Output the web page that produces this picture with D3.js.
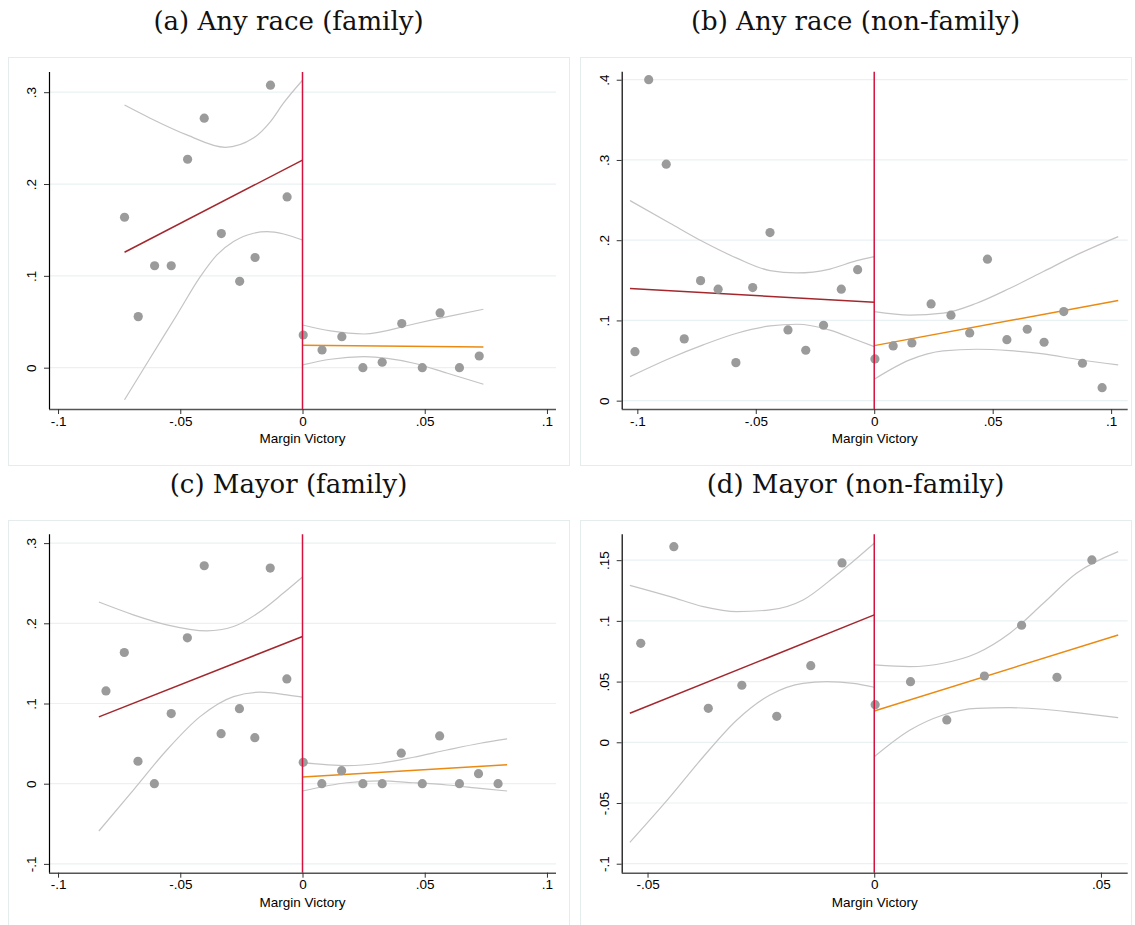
<!DOCTYPE html>
<html><head><meta charset="utf-8">
<script src="https://cdn.jsdelivr.net/npm/d3@7"></script>
<style>body{margin:0;background:#fff}svg{display:block}</style>
</head><body>
<svg id="chart" width="1135" height="925"></svg>
<script>
// ---------- Titles ----------
const titles = ["(a) Any race (family)", "(b) Any race (non-family)", "(c) Mayor (family)", "(d) Mayor (non-family)"];
const xAxisTitle = "Margin Victory";

// ---------- Tick values / labels ----------
const xTicksWide = [-0.1, -0.05, 0, 0.05, 0.1];
const xTickLabelsWide = ["-.1", "-.05", "0", ".05", ".1"];
const xTicksNarrow = [-0.05, 0, 0.05];
const xTickLabelsNarrow = ["-.05", "0", ".05"];
const yTicksA = [0, 0.1, 0.2, 0.3];
const yTickLabelsA = ["0", ".1", ".2", ".3"];
const yTicksB = [0, 0.1, 0.2, 0.3, 0.4];
const yTickLabelsB = ["0", ".1", ".2", ".3", ".4"];
const yTicksC = [-0.1, 0, 0.1, 0.2, 0.3];
const yTickLabelsC = ["-.1", "0", ".1", ".2", ".3"];
const yTicksD = [-0.1, -0.05, 0, 0.05, 0.1, 0.15];
const yTickLabelsD = ["-.1", "-.05", "0", ".05", ".1", ".15"];

// ---------- Panel A: Any race (family) ----------
const aBinX = [-0.0728,-0.0672,-0.0605,-0.0537,-0.047,-0.0402,-0.0332,-0.0257,-0.0194,-0.0131,-0.0063,0.0003,0.008,0.0161,0.0247,0.0326,0.0406,0.049,0.0563,0.0642,0.0723];
const aBinY = [0.1638,0.0556,0.111,0.111,0.227,0.2717,0.146,0.094,0.12,0.3076,0.186,0.0356,0.0193,0.0338,0,0.0059,0.048,0,0.0596,0,0.0127];
const aFitLeftX = [-0.0728, 0];
const aFitLeftY = [0.1257, 0.226];
const aFitRightX = [0, 0.074];
const aFitRightY = [0.0244, 0.0226];
const aCiLeftUpperX = [-0.0728,-0.0623,-0.0473,-0.0316,-0.0201,-0.0131,-0.0078,0];
const aCiLeftUpperY = [0.286,0.2717,0.2535,0.240,0.250,0.268,0.288,0.313];
const aCiLeftLowerX = [-0.0728,-0.0623,-0.0514,-0.0418,-0.035,-0.0282,-0.02,-0.0145,-0.0077,0];
const aCiLeftLowerY = [-0.035,0.0106,0.0574,0.0991,0.1228,0.1373,0.1464,0.1481,0.1456,0.139];
const aCiRightX = [0,0.0115,0.0251,0.0456,0.0593,0.074];
const aCiRightUpperY = [0.0465,0.040,0.0367,0.0476,0.0556,0.0636];
const aCiRightLowerY = [0.003,0.0092,0.012,0.0048,-0.0061,-0.018];

// ---------- Panel B: Any race (non-family) ----------
const bBinX = [-0.101,-0.0952,-0.0878,-0.0802,-0.0733,-0.0659,-0.0584,-0.0513,-0.044,-0.0364,-0.0289,-0.0214,-0.0139,-0.007,0.0003,0.008,0.0159,0.024,0.0324,0.0403,0.0478,0.056,0.0646,0.0717,0.08,0.0879,0.0962];
const bBinY = [0.0611,0.400,0.2948,0.077,0.1496,0.139,0.0474,0.1409,0.2095,0.0882,0.0628,0.094,0.139,0.1633,0.052,0.0682,0.072,0.1206,0.1065,0.0844,0.1763,0.076,0.089,0.0728,0.111,0.0466,0.0162];
const bFitLeftX = [-0.1031, 0];
const bFitLeftY = [0.1397, 0.1227];
const bFitRightX = [0, 0.103];
const bFitRightY = [0.0686, 0.1247];
const bCiLeftX = [-0.1031,-0.0862,-0.0722,-0.058,-0.044,-0.0327,-0.0187,-0.0074,0];
const bCiLeftUpperY = [0.2494,0.2212,0.198,0.1776,0.1621,0.1592,0.164,0.1745,0.1796];
const bCiLeftLowerY = [0.030,0.0529,0.0695,0.084,0.0931,0.0952,0.088,0.0756,0.0673];
const bCiRightX = [0,0.015,0.0291,0.0432,0.0573,0.0714,0.0854,0.103];
const bCiRightUpperY = [0.111,0.1067,0.109,0.1214,0.1401,0.1609,0.1817,0.2045];
const bCiRightLowerY = [0.0267,0.0508,0.062,0.0641,0.0623,0.0582,0.0516,0.0445];

// ---------- Panel C: Mayor (family) ----------
const cBinX = [-0.0804,-0.0729,-0.0673,-0.0606,-0.0537,-0.0471,-0.0402,-0.0333,-0.0258,-0.0195,-0.0132,-0.0064,0.0003,0.0079,0.016,0.0247,0.0326,0.0404,0.049,0.0561,0.0642,0.072,0.08];
const cBinY = [0.1157,0.1636,0.028,0,0.0874,0.1819,0.2718,0.0624,0.0936,0.0574,0.2689,0.1307,0.0267,0,0.0162,0,0,0.038,0,0.0596,0,0.0125,0];
const cFitLeftX = [-0.0833, 0];
const cFitLeftY = [0.0833, 0.1835];
const cFitRightX = [0, 0.0837];
const cFitRightY = [0.0084, 0.0237];
const cCiLeftUpperX = [-0.0833,-0.0692,-0.0555,-0.0391,-0.0282,-0.0173,-0.0078,0];
const cCiLeftUpperY = [0.2265,0.2106,0.1981,0.1906,0.196,0.2147,0.2377,0.2577];
const cCiLeftLowerX = [-0.0833,-0.0692,-0.0555,-0.0419,-0.0282,-0.0173,-0.0064,0];
const cCiLeftLowerY = [-0.059,-0.0079,0.042,0.0836,0.1086,0.1141,0.1107,0.1079];
const cCiRightX = [0,0.0182,0.0318,0.0454,0.0591,0.0727,0.0837];
const cCiRightUpperY = [0.0262,0.0225,0.0255,0.033,0.042,0.0504,0.0558];
const cCiRightLowerY = [-0.0091,0.0012,0.0034,0.0012,-0.0016,-0.0058,-0.0091];

// ---------- Panel D: Mayor (non-family) ----------
const dBinX = [-0.0515,-0.0442,-0.0366,-0.0292,-0.0215,-0.014,-0.0071,0.0002,0.008,0.016,0.0243,0.0325,0.0403,0.048];
const dBinY = [0.0815,0.1611,0.028,0.047,0.0214,0.0631,0.1477,0.031,0.0499,0.0184,0.0546,0.0964,0.0535,0.1502];
const dFitLeftX = [-0.0539, 0];
const dFitLeftY = [0.0239, 0.1049];
const dFitRightX = [0, 0.0538];
const dFitRightY = [0.0258, 0.0884];
const dCiLeftUpperX = [-0.0539,-0.045,-0.0377,-0.0303,-0.023,-0.0157,-0.0083,0];
const dCiLeftUpperY = [0.1293,0.12,0.1117,0.1076,0.109,0.1172,0.1378,0.164];
const dCiLeftLowerX = [-0.0539,-0.045,-0.0377,-0.0303,-0.023,-0.0157,-0.0105,-0.0046,0];
const dCiLeftLowerY = [-0.0824,-0.0448,-0.0119,0.0184,0.039,0.0486,0.0499,0.0486,0.0453];
const dCiRightX = [0,0.0079,0.0152,0.0226,0.0299,0.0373,0.0446,0.0538];
const dCiRightUpperY = [0.0637,0.0623,0.0651,0.0733,0.0898,0.1145,0.1392,0.157];
const dCiRightLowerY = [-0.0119,0.0101,0.0225,0.028,0.0285,0.0272,0.0244,0.0203];

// ---------- Drawing ----------
const zip = (xs, ys) => xs.map((x, i) => [x, ys[i]]);
const svg = d3.select("#chart");
const COL = {
  point: "#9b9b9b", ci: "#c4c4c4", fitL: "#a3282e", fitR: "#ea8a12",
  cut: "#d5123e", grid: "#eaf1f3", frame: "#e4ecee", axis: "#000"
};

const panels = [
  { title: titles[0], box: [8, 57, 569, 465], px: [49, 556], py: [72, 409], xd: [-0.1037, 0.1037], yd: [-0.045, 0.322],
    xt: xTicksWide, xtl: xTickLabelsWide, yt: yTicksA, ytl: yTickLabelsA, titleY: 30,
    binX: aBinX, binY: aBinY, fitL: zip(aFitLeftX, aFitLeftY), fitR: zip(aFitRightX, aFitRightY),
    ci: [zip(aCiLeftUpperX, aCiLeftUpperY), zip(aCiLeftLowerX, aCiLeftLowerY), zip(aCiRightX, aCiRightUpperY), zip(aCiRightX, aCiRightLowerY)] },
  { title: titles[1], box: [580, 57, 1131, 465], px: [621.7, 1127.7], py: [71.7, 409], xd: [-0.1066, 0.107], yd: [-0.0104, 0.41],
    xt: xTicksWide, xtl: xTickLabelsWide, yt: yTicksB, ytl: yTickLabelsB, titleY: 30,
    binX: bBinX, binY: bBinY, fitL: zip(bFitLeftX, bFitLeftY), fitR: zip(bFitRightX, bFitRightY),
    ci: [zip(bCiLeftX, bCiLeftUpperY), zip(bCiLeftX, bCiLeftLowerY), zip(bCiRightX, bCiRightUpperY), zip(bCiRightX, bCiRightLowerY)] },
  { title: titles[2], box: [8, 520, 569, 930], px: [49, 556], py: [534.3, 872.7], xd: [-0.1037, 0.1037], yd: [-0.111, 0.311],
    xt: xTicksWide, xtl: xTickLabelsWide, yt: yTicksC, ytl: yTickLabelsC, titleY: 493,
    binX: cBinX, binY: cBinY, fitL: zip(cFitLeftX, cFitLeftY), fitR: zip(cFitRightX, cFitRightY),
    ci: [zip(cCiLeftUpperX, cCiLeftUpperY), zip(cCiLeftLowerX, cCiLeftLowerY), zip(cCiRightX, cCiRightUpperY), zip(cCiRightX, cCiRightLowerY)] },
  { title: titles[3], box: [580, 520, 1131, 930], px: [621.7, 1127.7], py: [534.3, 872.7], xd: [-0.0557, 0.0559], yd: [-0.1074, 0.1713],
    xt: xTicksNarrow, xtl: xTickLabelsNarrow, yt: yTicksD, ytl: yTickLabelsD, titleY: 493,
    binX: dBinX, binY: dBinY, fitL: zip(dFitLeftX, dFitLeftY), fitR: zip(dFitRightX, dFitRightY),
    ci: [zip(dCiLeftUpperX, dCiLeftUpperY), zip(dCiLeftLowerX, dCiLeftLowerY), zip(dCiRightX, dCiRightUpperY), zip(dCiRightX, dCiRightLowerY)] }
];

panels.forEach(p => {
  const g = svg.append("g");
  const [bx0, by0, bx1, by1] = p.box;
  g.append("rect").attr("x", bx0 + 0.5).attr("y", by0 + 0.5).attr("width", bx1 - bx0).attr("height", by1 - by0)
    .attr("fill", "#fff").attr("stroke", COL.frame).attr("stroke-width", 1);

  // title
  g.append("text").attr("x", (bx0 + bx1) / 2).attr("y", p.titleY).attr("text-anchor", "middle")
    .attr("font-family", "'DejaVu Serif', serif").attr("font-size", 26).attr("fill", "#111").text(p.title);

  const x = d3.scaleLinear().domain(p.xd).range(p.px);
  const y = d3.scaleLinear().domain(p.yd).range([p.py[1], p.py[0]]);

  // gridlines
  g.append("g").selectAll("line").data(p.yt).join("line")
    .attr("x1", p.px[0]).attr("x2", p.px[1]).attr("y1", d => y(d)).attr("y2", d => y(d))
    .attr("stroke", COL.grid).attr("stroke-width", 1.2);

  // CI bands
  const curve = d3.line().x(d => x(d[0])).y(d => y(d[1])).curve(d3.curveMonotoneX);
  g.append("g").selectAll("path").data(p.ci).join("path")
    .attr("d", curve).attr("fill", "none").attr("stroke", COL.ci).attr("stroke-width", 1.2);

  // fits
  const straight = d3.line().x(d => x(d[0])).y(d => y(d[1]));
  g.append("path").attr("d", straight(p.fitL)).attr("fill", "none").attr("stroke", COL.fitL).attr("stroke-width", 1.5);
  g.append("path").attr("d", straight(p.fitR)).attr("fill", "none").attr("stroke", COL.fitR).attr("stroke-width", 1.5);

  // points
  g.append("g").selectAll("circle").data(p.binX.map((v, i) => [v, p.binY[i]])).join("circle")
    .attr("cx", d => x(d[0])).attr("cy", d => y(d[1])).attr("r", 4.6).attr("fill", COL.point);

  // cutoff line
  g.append("line").attr("x1", x(0)).attr("x2", x(0)).attr("y1", p.py[0]).attr("y2", p.py[1])
    .attr("stroke", COL.cut).attr("stroke-width", 1.5);

  // x axis
  const xAxis = d3.axisBottom(x).tickValues(p.xt).tickFormat((d, i) => p.xtl[i]).tickSize(5).tickSizeOuter(0);
  const gx = g.append("g").attr("transform", `translate(0,${p.py[1]})`).call(xAxis);
  gx.select(".domain").attr("stroke", "#555").attr("stroke-width", 1.6).attr("d", `M${p.px[0]},0.5H${p.px[1]}`);
  gx.selectAll(".tick line").attr("stroke", "#333");
  gx.selectAll(".tick text").attr("font-family", "'Liberation Sans', Arial, sans-serif").attr("font-size", 13.5)
    .attr("fill", "#000").attr("y", 7).attr("dy", "0.71em");

  // y axis
  const yAxis = d3.axisLeft(y).tickValues(p.yt).tickFormat((d, i) => p.ytl[i]).tickSize(5).tickSizeOuter(0);
  const gy = g.append("g").attr("transform", `translate(${p.px[0]},0)`).call(yAxis);
  gy.select(".domain").attr("stroke", "#000").attr("stroke-width", 1.2).attr("d", `M0.5,${p.py[0]}V${p.py[1]}`);
  gy.selectAll(".tick line").attr("stroke", "#333");
  gy.selectAll(".tick text").attr("font-family", "'Liberation Sans', Arial, sans-serif").attr("font-size", 13.5)
    .attr("fill", "#000").attr("x", null).attr("dy", null)
    .attr("text-anchor", "middle").attr("transform", "translate(-13,0) rotate(-90)");

  // x title
  g.append("text").attr("x", (p.px[0] + p.px[1]) / 2).attr("y", p.py[1] + 34).attr("text-anchor", "middle")
    .attr("font-family", "'Liberation Sans', Arial, sans-serif").attr("font-size", 13.5).attr("fill", "#000").text(xAxisTitle);
});
</script>
</body></html>
